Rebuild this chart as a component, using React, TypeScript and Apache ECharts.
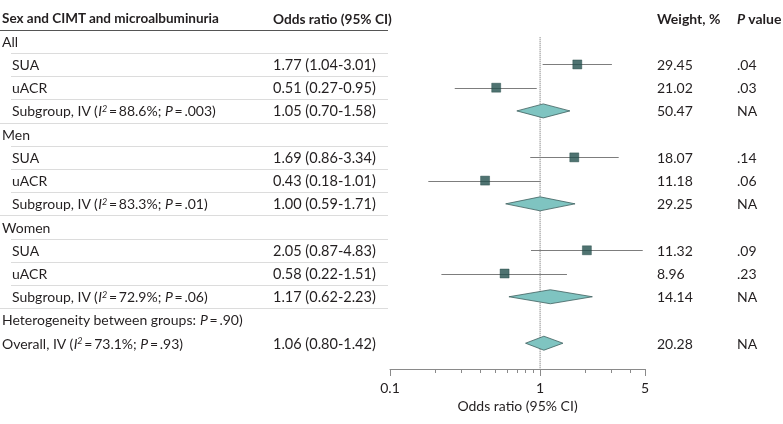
import React, { useEffect, useRef } from "react";
import * as echarts from "echarts";

const headerTexts = ["Sex and CIMT and microalbuminuria", "Odds ratio (95% CI)", "Weight, %", "{bi|P} value"];

const rowLabels = [
  "All",
  "SUA",
  "uACR",
  "Subgroup, IV ({i|I}{sup|2}\u2009=\u200988.6%; {i|P}\u2009=\u2009.003)",
  "Men",
  "SUA",
  "uACR",
  "Subgroup, IV ({i|I}{sup|2}\u2009=\u200983.3%; {i|P}\u2009=\u2009.01)",
  "Women",
  "SUA",
  "uACR",
  "Subgroup, IV ({i|I}{sup|2}\u2009=\u200972.9%; {i|P}\u2009=\u2009.06)",
  "Heterogeneity between groups: {i|P}\u2009=\u2009.90)",
  "Overall, IV ({i|I}{sup|2}\u2009=\u200973.1%; {i|P}\u2009=\u2009.93)",
];
const rowKinds = ["group", "item", "item", "sub", "group", "item", "item", "sub", "group", "item", "item", "sub", "note", "overall"];
const orTexts = [
  "", "1.77 (1.04-3.01)", "0.51 (0.27-0.95)", "1.05 (0.70-1.58)",
  "", "1.69 (0.86-3.34)", "0.43 (0.18-1.01)", "1.00 (0.59-1.71)",
  "", "2.05 (0.87-4.83)", "0.58 (0.22-1.51)", "1.17 (0.62-2.23)",
  "", "1.06 (0.80-1.42)",
];
const weights = ["", "29.45", "21.02", "50.47", "", "18.07", "11.18", "29.25", "", "11.32", "8.96", "14.14", "", "20.28"];
const pValues = ["", ".04", ".03", "NA", "", ".14", ".06", "NA", "", ".09", ".23", "NA", "", "NA"];
const estimates: (number | null)[] = [null, 1.77, 0.51, 1.05, null, 1.69, 0.43, 1.0, null, 2.05, 0.58, 1.17, null, 1.06];
const lowers: (number | null)[] = [null, 1.04, 0.27, 0.7, null, 0.86, 0.18, 0.59, null, 0.87, 0.22, 0.62, null, 0.8];
const uppers: (number | null)[] = [null, 3.01, 0.95, 1.58, null, 3.34, 1.01, 1.71, null, 4.83, 1.51, 2.23, null, 1.42];

const xTickValues = [0.1, 1, 5];
const xMinorTickValues = [0.2, 0.3, 0.4, 0.5, 0.6, 0.7, 0.8, 0.9, 2, 3, 4];
const xMin = 0.1;
const xMax = 5;

const FONT = "Lato, 'Noto Sans', sans-serif";
const TEXT = "#231f20";

export default function App() {
  const ref = useRef<HTMLDivElement>(null);
  useEffect(() => {
    if (!ref.current) return;
    const chart = echarts.init(ref.current, undefined, { renderer: "svg" });
    const lg = (v: number) => Math.log10(v);
    const nRows = rowLabels.length;
    const yMax = 15.11;

    const mkRich = (fs: number) => ({
      i: { fontStyle: "italic", fontFamily: FONT, fontSize: fs, color: TEXT },
      bi: { fontStyle: "italic", fontWeight: "bold", fontFamily: FONT, fontSize: fs, color: TEXT },
      sup: { fontStyle: "italic", fontFamily: FONT, fontSize: 9, color: TEXT, verticalAlign: "top", lineHeight: 9 },
    });

    const tableData: number[][] = [[0, 0, -1]];
    for (let k = 0; k < nRows; k++) tableData.push([0, k + 1, k]);

    const ciData: number[][] = [];
    const squareData: number[][] = [];
    const diamondData: number[][] = [];
    for (let k = 0; k < nRows; k++) {
      const e = estimates[k];
      const lo = lowers[k];
      const hi = uppers[k];
      if (e == null || lo == null || hi == null) continue;
      if (rowKinds[k] === "item") {
        ciData.push([lg(lo), lg(hi), k + 1]);
        squareData.push([lg(e), k + 1]);
      } else {
        diamondData.push([lg(lo), lg(e), lg(hi), k + 1]);
      }
    }

    const gridBox = { left: 390, right: 138, top: 18, bottom: 55, containLabel: false };

    const option: any = {
      animation: false,
      grid: [gridBox, { ...gridBox }],
      xAxis: [
        {
          type: "value",
          gridIndex: 0,
          position: "bottom",
          min: lg(xMin),
          max: lg(xMax),
          splitLine: { show: false },
          axisLine: { show: true, onZero: false, lineStyle: { color: "#8a8a8a", width: 1 } },
          axisTick: { show: true, customValues: xTickValues.map(lg), length: 7, lineStyle: { color: "#8a8a8a" } },
          axisLabel: {
            show: true,
            customValues: xTickValues.map(lg),
            margin: 11,
            fontFamily: FONT,
            fontSize: 14,
            color: TEXT,
            formatter: (v: number) => String(parseFloat(Math.pow(10, v).toPrecision(2))),
          },
          name: "Odds ratio (95% CI)",
          nameLocation: "middle",
          nameGap: 29,
          nameTextStyle: { fontFamily: FONT, fontSize: 14, color: TEXT },
        },
        {
          type: "value",
          gridIndex: 1,
          position: "bottom",
          min: lg(xMin),
          max: lg(xMax),
          splitLine: { show: false },
          axisLine: { show: false, onZero: false },
          axisTick: { show: true, customValues: xMinorTickValues.map(lg), length: 4, lineStyle: { color: "#8a8a8a" } },
          axisLabel: { show: false },
        },
      ],
      yAxis: [
        { type: "value", gridIndex: 0, inverse: true, min: 0, max: yMax, show: false },
        { type: "value", gridIndex: 1, inverse: true, min: 0, max: yMax, show: false },
      ],
      series: [
        {
          type: "line",
          data: [[0, 0.83], [0, yMax]],
          symbol: "none",
          lineStyle: { type: "dotted", color: "#666", width: 1 },
          silent: true,
          z: 1,
        },
        {
          type: "custom",
          data: tableData,
          encode: { x: 0, y: 1 },
          clip: false,
          silent: true,
          renderItem: (params: any, api: any) => {
            const r = api.value(1);
            const idx = api.value(2);
            const y = api.coord([0, r])[1];
            const step = api.size([0, 1])[1];
            const children: any[] = [];
            const txt = (x: number, text: string, bold: boolean, fs: number) => ({
              type: "text",
              style: {
                x, y, text, fill: TEXT, fontFamily: FONT, fontSize: fs,
                fontWeight: bold ? "bold" : "normal",
                verticalAlign: "middle", align: "left", rich: mkRich(fs),
              },
            });
            if (idx < 0) {
              children.push(txt(2, headerTexts[0], true, 13.5));
              children.push(txt(273, headerTexts[1], true, 13.7));
              children.push(txt(657, headerTexts[2], true, 14));
              children.push(txt(737, headerTexts[3], true, 14));
              const ly = Math.round(y + step / 2 + 0.5) + 0.5;
              children.push({ type: "line", shape: { x1: 0, y1: ly, x2: 388, y2: ly }, style: { stroke: "#555", lineWidth: 1 } });
            } else {
              const kind = rowKinds[idx];
              const lx = kind === "item" || kind === "sub" ? 12 : 2;
              children.push(txt(lx, rowLabels[idx], false, 14));
              if (orTexts[idx]) children.push(txt(273, orTexts[idx], false, 14.5));
              if (weights[idx]) children.push(txt(657, weights[idx], false, 14));
              if (pValues[idx]) children.push(txt(737, pValues[idx], false, 14));
              if (kind !== "note" && kind !== "overall") {
                const ly = Math.round(y + step / 2) + 0.5;
                const sx = kind === "sub" ? 0 : 11;
                children.push({ type: "line", shape: { x1: sx, y1: ly, x2: 388, y2: ly }, style: { stroke: "#dcdcdc", lineWidth: 1 } });
              }
            }
            return { type: "group", children };
          },
          z: 2,
        },
        {
          type: "custom",
          data: ciData,
          encode: { x: [0, 1], y: 2 },
          clip: false,
          silent: true,
          renderItem: (params: any, api: any) => {
            const a = api.coord([api.value(0), api.value(2)]);
            const b = api.coord([api.value(1), api.value(2)]);
            const yy = Math.round(a[1]) + 0.5;
            return { type: "line", shape: { x1: a[0], y1: yy, x2: b[0], y2: yy }, style: { stroke: "#7d7d7d", lineWidth: 1 } };
          },
          z: 3,
        },
        {
          type: "scatter",
          data: squareData,
          symbol: "rect",
          symbolSize: 9,
          itemStyle: { color: "#23504d", borderColor: "#1c413f", borderWidth: 0.5 },
          silent: true,
          z: 4,
        },
        {
          type: "custom",
          data: diamondData,
          encode: { x: [0, 1, 2], y: 3 },
          clip: false,
          silent: true,
          renderItem: (params: any, api: any) => {
            const r = api.value(3);
            const l = api.coord([api.value(0), r]);
            const m = api.coord([api.value(1), r]);
            const h = api.coord([api.value(2), r]);
            const hh = 7;
            return {
              type: "polygon",
              shape: { points: [[l[0], l[1]], [m[0], m[1] - hh], [h[0], h[1]], [m[0], m[1] + hh]] },
              style: { fill: "#7fc4c1", stroke: "#3f5f5e", lineWidth: 0.8 },
            };
          },
          z: 4,
        },
      ],
    };
    chart.setOption(option);
    return () => chart.dispose();
  }, []);
  return <div ref={ref} style={{ position: "fixed", left: 0, top: 0, width: 783, height: 424 }} />;
}
